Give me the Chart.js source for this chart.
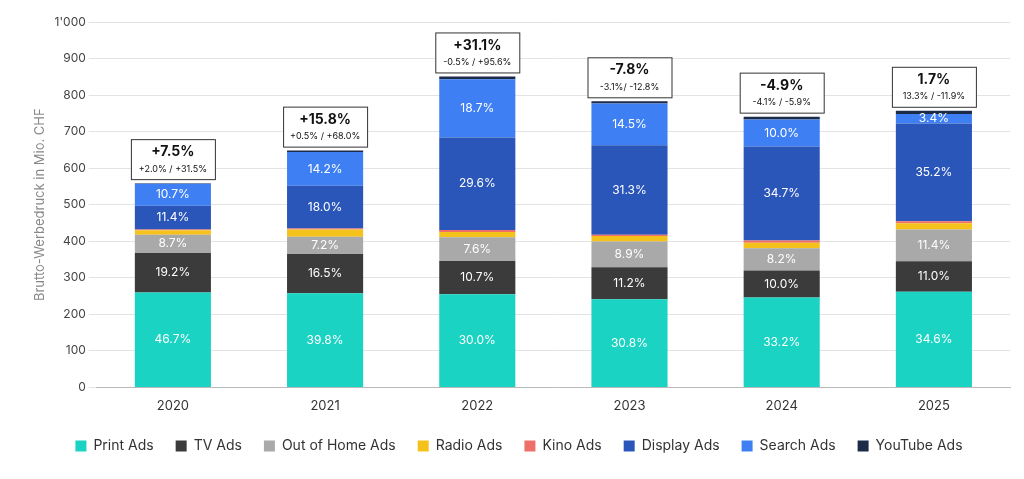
<!DOCTYPE html>
<html><head><meta charset="utf-8">
<script src="https://cdn.jsdelivr.net/npm/chart.js@4/dist/chart.umd.min.js"></script>
<style>html,body{margin:0;background:#fff}#wrap{width:1024px;height:479px}</style>
</head><body><div id="wrap"><canvas id="c"></canvas></div>
<script>
const years = ['2020', '2021', '2022', '2023', '2024', '2025'];
const printAds = [260, 258, 255, 241, 246, 262];
const tvAds = [108, 107, 91, 88, 74, 83];
const oohAds = [50, 47, 65, 70, 61, 87];
const radioAds = [12, 20, 14, 15, 15, 17];
const kinoAds = [2, 3, 6, 4, 6, 6];
const displayAds = [65, 117, 253, 245, 257, 267];
const searchAds = [60, 92, 159, 114, 74, 26];
const youtubeAds = [2, 4, 8, 6, 8, 9];

const printLbl = ['46.7%', '39.8%', '30.0%', '30.8%', '33.2%', '34.6%'];
const tvLbl = ['19.2%', '16.5%', '10.7%', '11.2%', '10.0%', '11.0%'];
const oohLbl = ['8.7%', '7.2%', '7.6%', '8.9%', '8.2%', '11.4%'];
const displayLbl = ['11.4%', '18.0%', '29.6%', '31.3%', '34.7%', '35.2%'];
const searchLbl = ['10.7%', '14.2%', '18.7%', '14.5%', '10.0%', '3.4%'];
const growthMain = ['+7.5%', '+15.8%', '+31.1%', '-7.8%', '-4.9%', '1.7%'];
const growthSub = ['+2.0% / +31.5%', '+0.5% / +68.0%', '-0.5% / +95.6%', '-3.1%/ -12.8%', '-4.1% / -5.9%', '13.3% / -11.9%'];

const font = 'Inter, "Noto Sans", sans-serif';

const segLabels = {
  id: 'segLabels',
  afterDatasetsDraw(chart) {
    const ctx = chart.ctx;
    const map = {0: printLbl, 1: tvLbl, 2: oohLbl, 5: displayLbl, 6: searchLbl};
    ctx.save();
    ctx.font = '12px ' + font;
    ctx.fillStyle = '#fff';
    ctx.textAlign = 'center';
    ctx.textBaseline = 'middle';
    Object.keys(map).forEach(di => {
      chart.getDatasetMeta(+di).data.forEach((bar, i) => {
        ctx.fillText(map[di][i], bar.x, (bar.y + bar.base) / 2);
      });
    });
    // growth boxes
    const top = chart.getDatasetMeta(7).data;
    top.forEach((bar, i) => {
      const w = 84, h = 40, x = bar.x - w / 2, y = bar.y - h - 4;
      ctx.fillStyle = '#fff';
      ctx.fillRect(x, y, w, h);
      ctx.strokeStyle = '#333';
      ctx.lineWidth = 1;
      ctx.strokeRect(x + 0.5, y + 0.5, w, h);
      ctx.fillStyle = '#111';
      ctx.font = 'bold 14px ' + font;
      ctx.fillText(growthMain[i], bar.x, y + 13);
      ctx.font = '9px ' + font;
      ctx.fillText(growthSub[i], bar.x, y + 30);
    });
    ctx.restore();
  }
};

const mk = (label, data, color) => ({ label, data, backgroundColor: color, borderWidth: 0, categoryPercentage: 0.5, barPercentage: 1 });

new Chart(document.getElementById('c'), {
  type: 'bar',
  data: {
    labels: years,
    datasets: [
      mk('Print Ads', printAds, '#1bd3c3'),
      mk('TV Ads', tvAds, '#3b3b3b'),
      mk('Out of Home Ads', oohAds, '#a9a9a9'),
      mk('Radio Ads', radioAds, '#f5c21b'),
      mk('Kino Ads', kinoAds, '#ee6e6a'),
      mk('Display Ads', displayAds, '#2a56b9'),
      mk('Search Ads', searchAds, '#3e80f4'),
      mk('YouTube Ads', youtubeAds, '#1c2b48'),
    ],
  },
  options: {
    responsive: true,
    maintainAspectRatio: false,
    animation: false,
    layout: { padding: { top: 22, right: 14, left: 28, bottom: 16 } },
    plugins: {
      legend: { position: 'bottom', labels: { color: '#333', font: { family: font, size: 14 }, boxWidth: 11, boxHeight: 11, padding: 22 } },
      tooltip: { enabled: false },
    },
    scales: {
      x: { stacked: true, grid: { display: false }, border: { color: '#bbb' }, ticks: { color: '#333', font: { family: font, size: 13 } } },
      y: {
        stacked: true, min: 0, max: 1000,
        title: { display: true, text: 'Brutto-Werbedruck in Mio. CHF', color: '#888', font: { family: font, size: 13 } },
        grid: { color: '#e3e3e3' }, border: { display: false },
        ticks: { stepSize: 100, color: '#444', font: { family: font, size: 12 }, callback: v => v === 1000 ? "1'000" : v },
      },
    },
  },
  plugins: [segLabels],
});
</script></body></html>
